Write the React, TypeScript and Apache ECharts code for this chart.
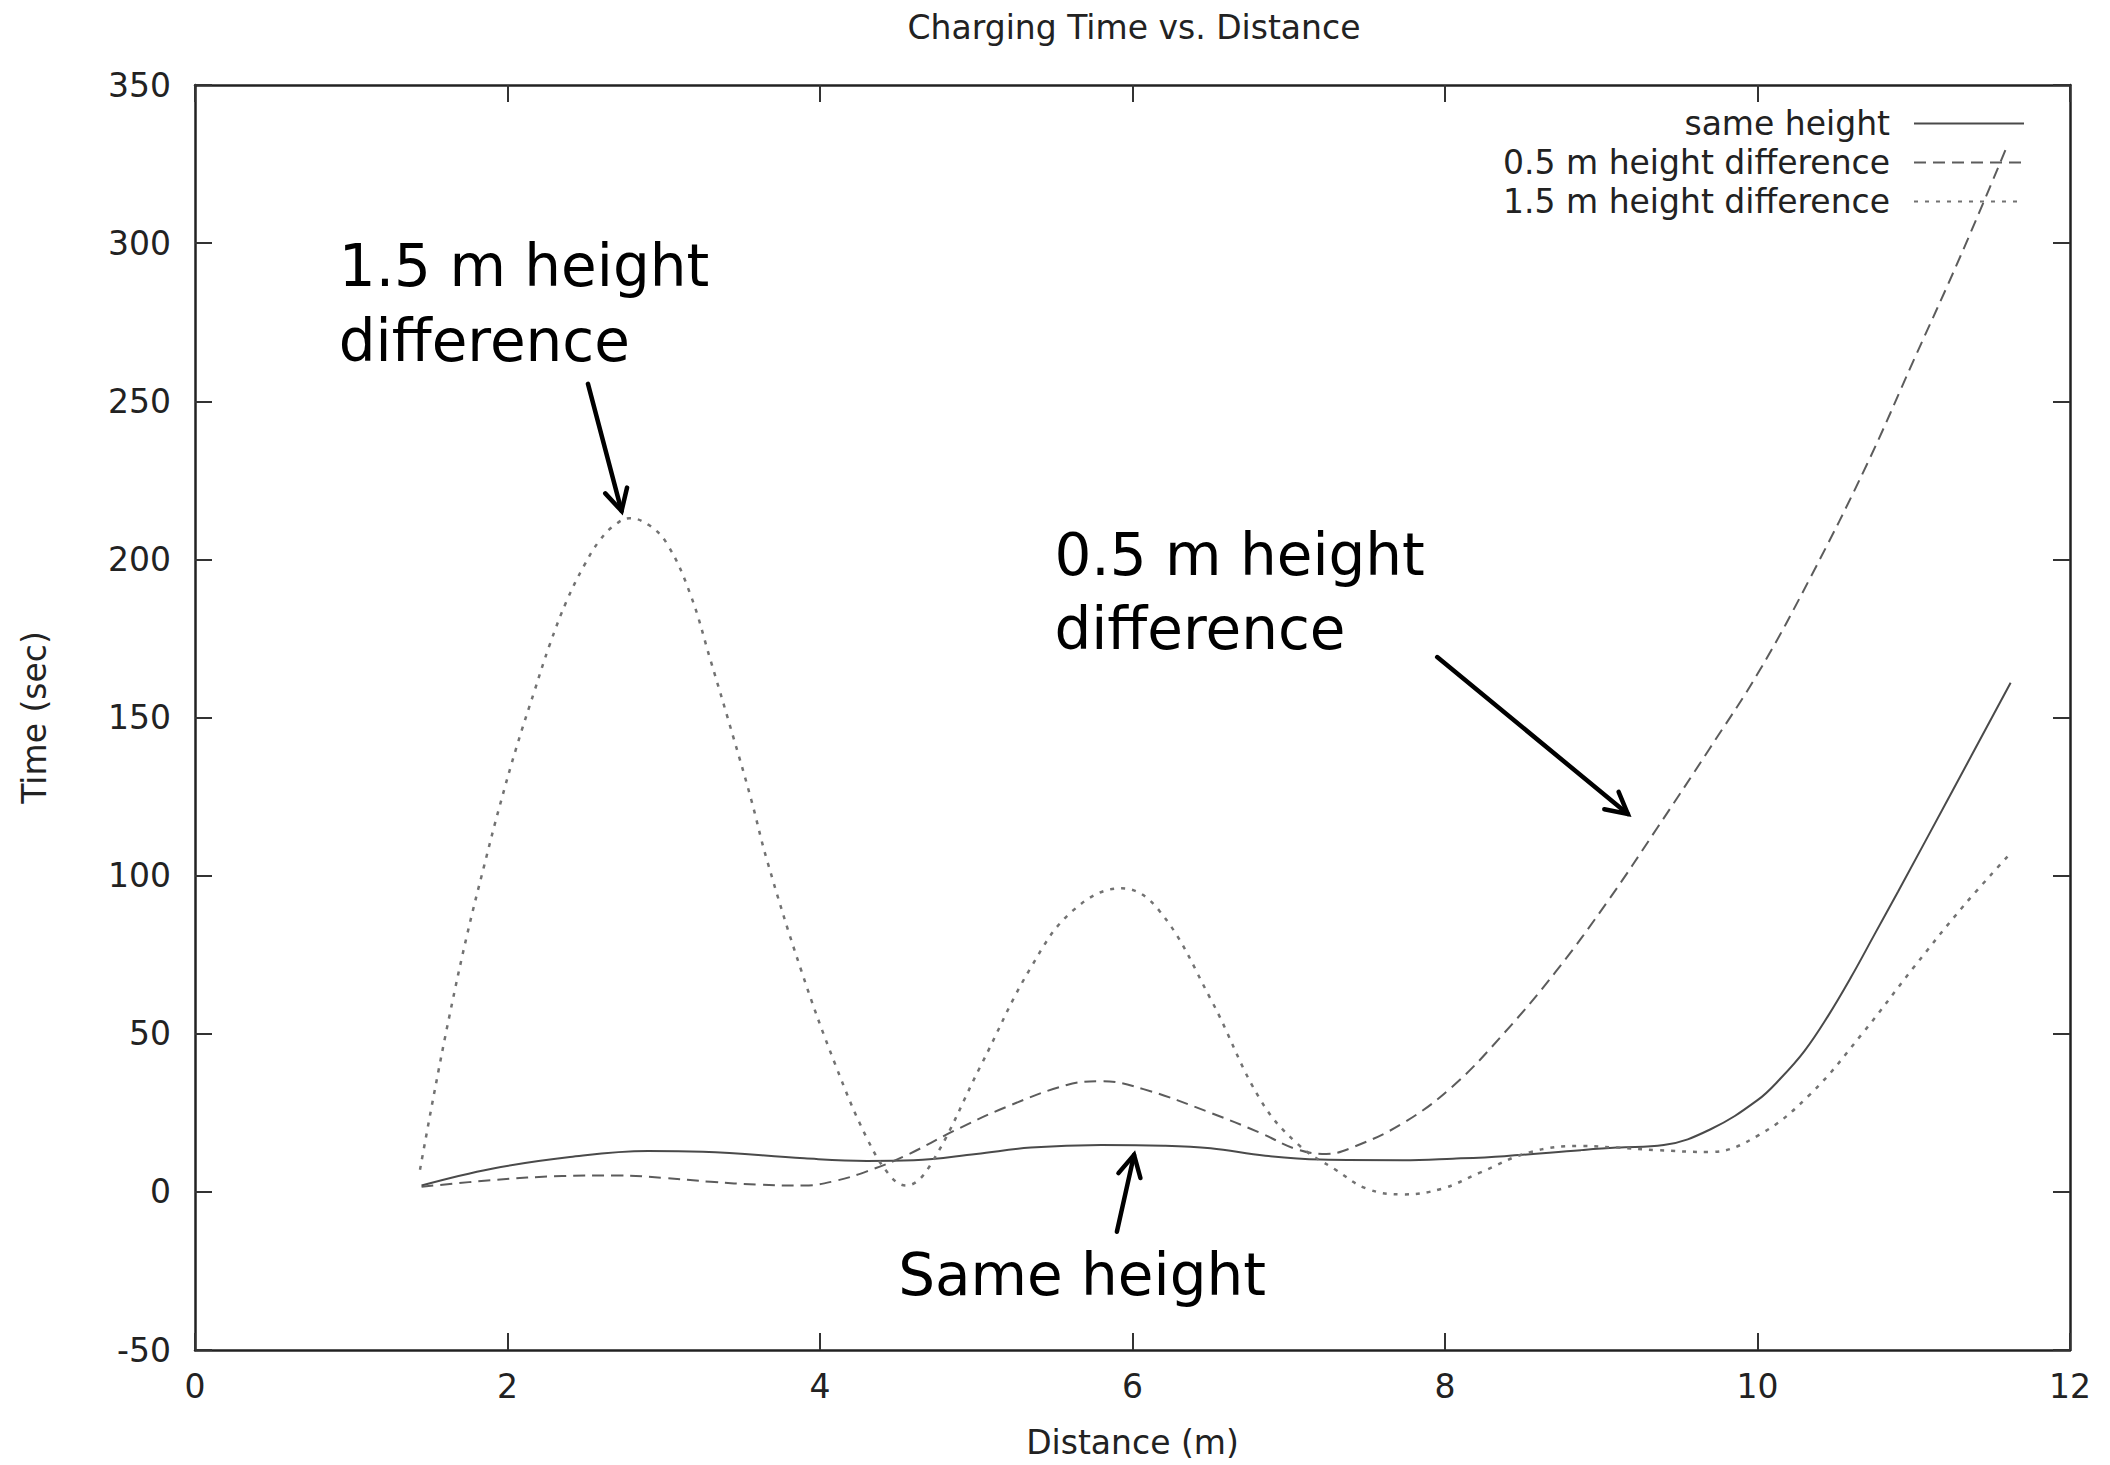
import React, { useEffect, useRef } from "react";
import * as echarts from "echarts";

// Charging time (sec) against distance (m) for three height offsets.
const sameHeight: [number, number][] = [
  [1.45, 2], [1.9, 7.3], [2.4, 11], [2.9, 12.9], [3.25, 12.7], [3.9, 10.6],
  [4.3, 9.8], [4.6, 10], [5.0, 12], [5.35, 14], [5.8, 14.8], [6.2, 14.6],
  [6.5, 13.8], [6.85, 11.4], [7.2, 10.2], [7.73, 10], [8.05, 10.5], [8.38, 11.3],
  [8.87, 13.2], [9.1, 14], [9.4, 14.8], [9.7, 19.8], [10.0, 29], [10.15, 36],
  [10.3, 44.5], [10.45, 55.5], [10.6, 68], [10.75, 81.5], [10.9, 95],
  [11.25, 127], [11.62, 161],
];

const halfMetreDiff: [number, number][] = [
  [1.45, 1.6], [1.9, 3.7], [2.35, 5], [2.7, 5.2], [3.0, 4.4], [3.3, 3.2],
  [3.6, 2.3], [3.9, 2], [4.1, 3.5], [4.3, 6.5], [4.55, 11.5], [4.87, 19.6],
  [5.2, 27], [5.58, 33.8], [5.8, 35], [6.07, 32.5], [6.5, 25], [6.82, 18.6],
  [7.05, 13.5], [7.24, 12], [7.4, 13.9], [7.73, 21.7], [8.05, 33.4], [8.38, 50.3],
  [8.71, 69.7], [9.04, 91.8], [9.36, 115.2], [9.69, 139.9], [10.01, 164.6],
  [10.34, 194.4], [10.7, 230], [11.0, 263], [11.3, 296], [11.6, 331],
];

const oneAndHalfMetreDiff: [number, number][] = [
  [1.44, 7], [1.53, 31], [1.63, 56], [1.74, 81], [1.85, 103], [1.95, 122],
  [2.06, 141], [2.17, 158], [2.27, 173], [2.38, 187], [2.49, 198], [2.59, 206],
  [2.69, 211], [2.78, 213], [2.9, 211], [3.02, 205], [3.17, 189], [3.3, 168],
  [3.45, 143], [3.56, 124], [3.66, 105], [3.88, 70], [4.1, 40], [4.3, 17],
  [4.45, 5], [4.55, 2], [4.7, 8], [5.03, 40], [5.35, 71], [5.62, 89],
  [5.93, 96], [6.17, 89], [6.5, 61], [6.82, 29], [7.06, 15], [7.3, 7],
  [7.5, 1], [7.73, -0.8], [7.98, 1], [8.22, 6], [8.54, 12.5], [8.87, 14.5],
  [9.1, 14], [9.36, 13.2], [9.69, 12.6], [10.01, 18], [10.34, 31], [10.67, 50],
  [11.0, 71], [11.32, 90.5], [11.6, 106],
];

const seriesNames = [
  "same height",
  "0.5 m height difference",
  "1.5 m height difference",
];

const xRange = { min: 0, max: 12, interval: 2 };
const yRange = { min: -50, max: 350, interval: 50 };

// Hand-written callouts, anchored in data coordinates.
const callouts: { text: string; at: [number, number] }[] = [
  { text: "1.5 m height", at: [0.92, 292.8] },
  { text: "difference", at: [0.92, 269.1] },
  { text: "0.5 m height", at: [5.5, 201.4] },
  { text: "difference", at: [5.5, 178] },
  { text: "Same height", at: [4.5, -26.3] },
];

const arrows: { from: [number, number]; to: [number, number] }[] = [
  { from: [2.515, 255.5], to: [2.73, 215.3] },
  { from: [7.95, 169.1], to: [9.17, 119.5] },
  { from: [5.9, -12.6], to: [6.01, 11.7] },
];

const PLOT_FONT = "DejaVu Sans";
const NOTE_FONT = "DejaVu Sans";

export default function App() {
  const ref = useRef<HTMLDivElement>(null);

  useEffect(() => {
    const chart = echarts.init(ref.current!, null, { renderer: "svg" });

    const textStyle = {
      fontFamily: PLOT_FONT,
      fontSize: 33,
      color: "#222",
      fontWeight: "normal" as const,
    };

    const frameLine = {
      show: true,
      onZero: false,
      lineStyle: { color: "#222", width: 2.5 },
    };
    const innerTicks = {
      show: true,
      inside: true,
      length: 17,
      lineStyle: { color: "#333", width: 2 },
    };

    const line = (
      name: string,
      data: [number, number][],
      color: string,
      type: any,
      width: number
    ) => ({
      name,
      type: "line",
      data,
      smooth: 0.4,
      symbol: "none",
      showSymbol: false,
      xAxisIndex: 0,
      yAxisIndex: 0,
      lineStyle: { color, width, type },
      itemStyle: { color },
      z: 3,
    });

    chart.setOption({
      animation: false,
      backgroundColor: "#ffffff",
      title: {
        text: "Charging Time vs. Distance",
        left: 1134,
        top: 11,
        padding: 0,
        textAlign: "center",
        textStyle: { ...textStyle },
      },
      grid: { left: 195, right: 40, top: 85, bottom: 115, containLabel: false },
      legend: seriesNames.map((n, i) => ({
        data: [n],
        right: 85,
        top: 107 + 39 * i,
        orient: "horizontal",
        align: "right",
        itemWidth: 110,
        itemHeight: 14,
        padding: 0,
        selectedMode: false,
        itemStyle: { opacity: 0 },
        textStyle: { ...textStyle, padding: [0, 19, 0, 0] },
      })),
      xAxis: [
        {
          type: "value",
          ...xRange,
          position: "bottom",
          name: "Distance (m)",
          nameLocation: "middle",
          nameGap: 76,
          nameTextStyle: { ...textStyle },
          axisLine: frameLine,
          axisTick: innerTicks,
          axisLabel: { margin: 20, ...textStyle },
          splitLine: { show: false },
        },
        {
          type: "value",
          ...xRange,
          position: "top",
          axisLine: frameLine,
          axisTick: innerTicks,
          axisLabel: { show: false },
          splitLine: { show: false },
        },
      ],
      yAxis: [
        {
          type: "value",
          ...yRange,
          position: "left",
          name: "Time (sec)",
          nameLocation: "middle",
          nameGap: 144,
          nameRotate: 90,
          nameTextStyle: { ...textStyle },
          axisLine: frameLine,
          axisTick: innerTicks,
          axisLabel: { margin: 24, ...textStyle },
          splitLine: { show: false },
        },
        {
          type: "value",
          ...yRange,
          position: "right",
          axisLine: frameLine,
          axisTick: innerTicks,
          axisLabel: { show: false },
          splitLine: { show: false },
        },
      ],
      series: [
        line(seriesNames[0], sameHeight, "#4a4a4a", "solid", 2),
        line(seriesNames[1], halfMetreDiff, "#5c5c5c", [12, 7], 2),
        line(seriesNames[2], oneAndHalfMetreDiff, "#727272", [4, 7], 2.5),
      ],
    });

    // Callout text and arrows, placed through the grid's own scales.
    const toPx = (p: [number, number]) =>
      chart.convertToPixel({ xAxisIndex: 0, yAxisIndex: 0 }, p) as number[];

    const graphics: any[] = [];
    callouts.forEach((c) => {
      const [x, y] = toPx(c.at);
      graphics.push({
        type: "text",
        x,
        y,
        z: 10,
        style: {
          text: c.text,
          fontFamily: NOTE_FONT,
          fontSize: 58,
          fill: "#000",
          align: "left",
          verticalAlign: "middle",
        },
      });
    });

    const HEAD = 24;
    const SPREAD = (28 * Math.PI) / 180;
    arrows.forEach((a) => {
      const [x1, y1] = toPx(a.from);
      const [x2, y2] = toPx(a.to);
      const ang = Math.atan2(y2 - y1, x2 - x1);
      const back = ang + Math.PI;
      const h1 = [x2 + HEAD * Math.cos(back + SPREAD), y2 + HEAD * Math.sin(back + SPREAD)];
      const h2 = [x2 + HEAD * Math.cos(back - SPREAD), y2 + HEAD * Math.sin(back - SPREAD)];
      graphics.push({
        type: "line",
        z: 10,
        shape: { x1, y1, x2, y2 },
        style: { stroke: "#000", lineWidth: 4.5, lineCap: "round" },
      });
      graphics.push({
        type: "polyline",
        z: 10,
        shape: { points: [h1, [x2, y2], h2] },
        style: { stroke: "#000", lineWidth: 4.5, lineJoin: "miter", lineCap: "round", fill: "none" },
      });
    });

    chart.setOption({ graphic: graphics });

    return () => {
      chart.dispose();
    };
  }, []);

  return (
    <div
      ref={ref}
      style={{ position: "fixed", left: 0, top: 0, width: 2110, height: 1465, background: "#fff" }}
    />
  );
}
